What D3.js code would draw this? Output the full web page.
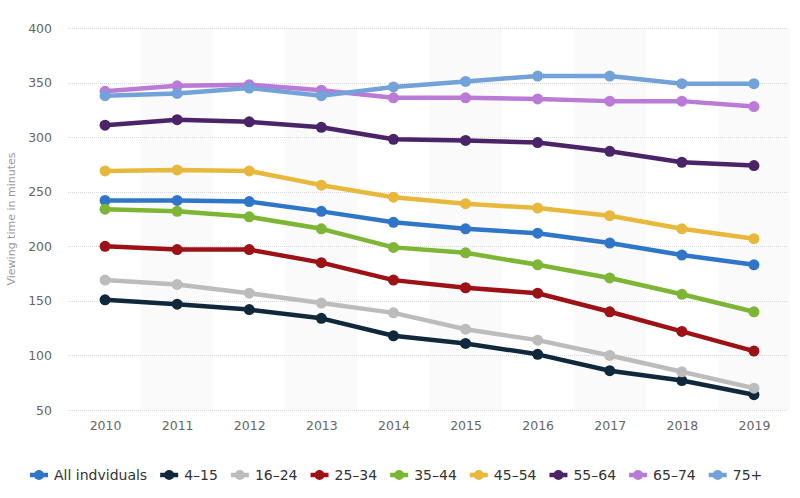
<!DOCTYPE html>
<html>
<head>
<meta charset="utf-8">
<script src="https://cdn.jsdelivr.net/npm/d3@7"></script>
<style>
  html, body { margin: 0; padding: 0; background: #fff; }
  svg { display: block; }
</style>
</head>
<body>
<svg id="chart" width="800" height="498"></svg>
<script>
const years = [2010, 2011, 2012, 2013, 2014, 2015, 2016, 2017, 2018, 2019];
const yTicks = [50, 100, 150, 200, 250, 300, 350, 400];
const seriesNames = ["All indviduals", "4–15", "16–24", "25–34", "35–44", "45–54", "55–64", "65–74", "75+"];
const seriesColors = ["#2f76c9", "#10283c", "#bcbcbc", "#9c1216", "#7db534", "#e8b83c", "#4b2467", "#b97bd6", "#72a2d7"];
const allIndividuals = [242, 242, 241, 232, 222, 216, 212, 203, 192, 183];
const age4to15 = [151, 147, 142, 134, 118, 111, 101, 86, 77, 64];
const age16to24 = [169, 165, 157, 148, 139, 124, 114, 100, 85, 70];
const age25to34 = [200, 197, 197, 185, 169, 162, 157, 140, 122, 104];
const age35to44 = [234, 232, 227, 216, 199, 194, 183, 171, 156, 140];
const age45to54 = [269, 270, 269, 256, 245, 239, 235, 228, 216, 207];
const age55to64 = [311, 316, 314, 309, 298, 297, 295, 287, 277, 274];
const age65to74 = [342, 347, 348, 343, 336, 336, 335, 333, 333, 328];
const age75plus = [338, 340, 345, 338, 346, 351, 356, 356, 349, 349];
const seriesValues = [allIndividuals, age4to15, age16to24, age25to34, age35to44, age45to54, age55to64, age65to74, age75plus];
const yTitle = "Viewing time in minutes";

(function () {
const svg = d3.select("#chart");
const pLeft = 69, pRight = 790, pTop = 28, pBottom = 410;

const x = d3.scalePoint().domain(years).range([pLeft, pRight]).padding(0.5);
const step = x.step();
const y = d3.scaleLinear().domain([50, 400]).range([pBottom, pTop]);

// alternating column bands
svg.append("g").selectAll("rect")
  .data(years.filter((d, i) => i % 2 === 1))
  .join("rect")
  .attr("x", d => x(d) - step / 2)
  .attr("y", pTop)
  .attr("width", step)
  .attr("height", pBottom - pTop)
  .attr("fill", "#fafafa");

// grid lines
svg.append("g").selectAll("line")
  .data(yTicks)
  .join("line")
  .attr("x1", pLeft - 1).attr("x2", pRight - 2)
  .attr("y1", d => Math.round(y(d)) + 0.5).attr("y2", d => Math.round(y(d)) + 0.5)
  .attr("stroke", "#d8d8d8")
  .attr("stroke-width", 1)
  .attr("stroke-dasharray", "1,1");

// y axis labels
const yAxis = d3.axisLeft(y).tickValues(yTicks).tickSize(0).tickPadding(0);
const gy = svg.append("g").attr("transform", `translate(${52},0)`).call(yAxis);
gy.select(".domain").remove();
gy.selectAll("text")
  .attr("font-family", "DejaVu Sans, sans-serif")
  .attr("font-size", 12.5)
  .attr("fill", "#666");

// x axis labels
const xAxis = d3.axisBottom(x).tickSize(0).tickPadding(0);
const gx = svg.append("g").attr("transform", `translate(0,${421})`).call(xAxis);
gx.select(".domain").remove();
gx.selectAll("text")
  .attr("font-family", "DejaVu Sans, sans-serif")
  .attr("font-size", 12.5)
  .attr("fill", "#666");

// y title
svg.append("text")
  .attr("transform", `translate(15,219) rotate(-90)`)
  .attr("text-anchor", "middle")
  .attr("font-family", "DejaVu Sans, sans-serif")
  .attr("font-size", 11)
  .attr("fill", "#999")
  .text(yTitle);

// series
const line = d3.line().x((d, i) => x(years[i])).y(d => y(d));
const series = seriesNames.map((name, i) => ({ name, color: seriesColors[i], values: seriesValues[i] }));
const g = svg.append("g");
series.forEach(s => {
  const sg = g.append("g");
  sg.append("path")
    .attr("d", line(s.values))
    .attr("fill", "none")
    .attr("stroke", s.color)
    .attr("stroke-width", 4.5)
    .attr("stroke-linejoin", "round");
  sg.selectAll("circle")
    .data(s.values)
    .join("circle")
    .attr("cx", (d, k) => x(years[k]))
    .attr("cy", d => y(d))
    .attr("r", 5.5)
    .attr("fill", s.color);
});

// legend
const legend = svg.append("g");
let lx = 30;
const ly = 475;
series.forEach(s => {
  const item = legend.append("g");
  item.append("line")
    .attr("x1", lx).attr("x2", lx + 18)
    .attr("y1", ly).attr("y2", ly)
    .attr("stroke", s.color).attr("stroke-width", 4.5);
  item.append("circle")
    .attr("cx", lx + 9).attr("cy", ly).attr("r", 5).attr("fill", s.color);
  const t = item.append("text")
    .attr("x", lx + 24).attr("y", ly + 5)
    .attr("font-family", "DejaVu Sans, sans-serif")
    .attr("font-size", 14)
    .attr("fill", "#333")
    .text(s.name);
  const w = t.node().getComputedTextLength();
  lx = lx + 24 + w + 13;
});
})();
</script>
</body>
</html>
